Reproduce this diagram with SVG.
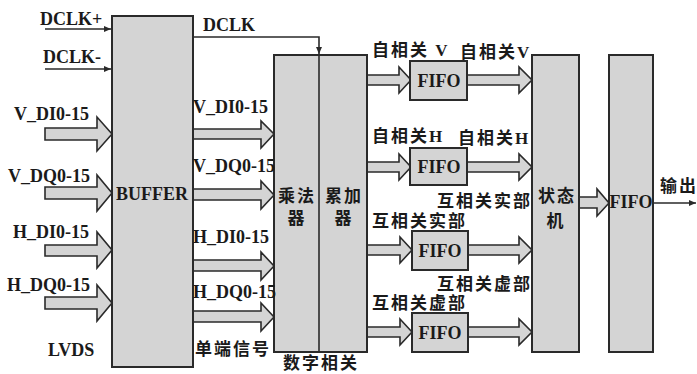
<svg xmlns="http://www.w3.org/2000/svg" width="697" height="374" viewBox="0 0 697 374">
<defs>
<style>
.box{fill:#d4d4d4;stroke:#2a2a2a;stroke-width:2}
.ba{fill:#d4d4d4;stroke:#2a2a2a;stroke-width:1.6;stroke-linejoin:miter}
.ln{fill:none;stroke:#2a2a2a;stroke-width:1.6}
text{font-family:"Liberation Serif","Noto Sans CJK SC",serif;font-weight:bold;font-size:18px;fill:#1a1a1a}
.cn{font-size:17px;letter-spacing:2px}
.mid{text-anchor:middle}
</style>
<marker id="ah" markerWidth="8" markerHeight="8" refX="7" refY="4" orient="auto" markerUnits="userSpaceOnUse">
<path d="M0,1 L7,4 L0,7 Z" fill="#2a2a2a"/>
</marker>
</defs>
<rect width="697" height="374" fill="#ffffff"/>

<g id="connectors">
<path class="ln" d="M45,29 H111" marker-end="url(#ah)"/>
<path class="ln" d="M45,69 H111" marker-end="url(#ah)"/>
<path class="ln" d="M193,37 H319 V54" marker-end="url(#ah)"/>
<path class="ln" d="M653,203 H696" marker-end="url(#ah)"/>
<!-- left inputs -->
<path class="ba" d="M45,128 H97 V117 L112,134 L97,151 V140 H45 Z"/>
<path class="ba" d="M45,187 H97 V175 L112,193 L97,211 V199 H45 Z"/>
<path class="ba" d="M45,245 H97 V232 L112,250 L97,268 V256 H45 Z"/>
<path class="ba" d="M45,297 H97 V285 L112,303 L97,321 V309 H45 Z"/>
<!-- buffer to correlator -->
<path class="ba" d="M193,129 H261 V121 L274,134 L261,148 V139 H193 Z"/>
<path class="ba" d="M193,189 H261 V181 L274,195 L261,209 V200 H193 Z"/>
<path class="ba" d="M193,260 H261 V252 L274,266 L261,280 V271 H193 Z"/>
<path class="ba" d="M193,311 H261 V303 L274,317 L261,331 V322 H193 Z"/>
<!-- correlator to FIFOs -->
<path class="ba" d="M367,75 H399 V67 L411,80 L399,93 V85 H367 Z"/>
<path class="ba" d="M367,162 H399 V154 L411,167 L399,180 V172 H367 Z"/>
<path class="ba" d="M367,245 H400 V237 L412,250 L400,263 V255 H367 Z"/>
<path class="ba" d="M367,327 H400 V319 L412,332 L400,345 V337 H367 Z"/>
<!-- FIFOs to state machine -->
<path class="ba" d="M467,75 H519 V67 L532,80 L519,93 V85 H467 Z"/>
<path class="ba" d="M467,162 H519 V154 L532,167 L519,180 V172 H467 Z"/>
<path class="ba" d="M468,245 H519 V237 L532,250 L519,263 V255 H468 Z"/>
<path class="ba" d="M468,327 H519 V319 L532,332 L519,345 V337 H468 Z"/>
<!-- state machine to output FIFO -->
<path class="ba" d="M579,197 H597 V189 L609,203 L597,216 V208 H579 Z"/>
</g>

<g id="buffer">
<rect class="box" x="112" y="16" width="81" height="351"/>
<text class="mid" x="152" y="200">BUFFER</text>
</g>

<g id="correlator">
<rect class="box" x="274" y="55" width="93" height="297"/>
<line class="ln" x1="319" y1="55" x2="319" y2="352" stroke-width="2"/>
<text class="cn mid" x="297" y="202">乘法</text>
<text class="cn mid" x="297" y="224">器</text>
<text class="cn mid" x="344" y="202">累加</text>
<text class="cn mid" x="344" y="224">器</text>
</g>

<g id="fifo1">
<rect class="box" x="410" y="61" width="57" height="39"/>
<text class="mid" x="439" y="87">FIFO</text>
</g>
<g id="fifo2">
<rect class="box" x="410" y="148" width="57" height="37"/>
<text class="mid" x="439" y="173">FIFO</text>
</g>
<g id="fifo3">
<rect class="box" x="412" y="231" width="56" height="39"/>
<text class="mid" x="440" y="257">FIFO</text>
</g>
<g id="fifo4">
<rect class="box" x="412" y="313" width="56" height="39"/>
<text class="mid" x="440" y="339">FIFO</text>
</g>

<g id="state-machine">
<rect class="box" x="532" y="55" width="47" height="297"/>
<text class="cn mid" x="557" y="202">状态</text>
<text class="cn mid" x="556" y="227">机</text>
</g>

<g id="fifo-out">
<rect class="box" x="609" y="55" width="44" height="297"/>
<text class="mid" x="631" y="208">FIFO</text>
</g>

<g id="labels">
<text x="40" y="25">DCLK+</text>
<text x="43" y="63">DCLK-</text>
<text x="203" y="31">DCLK</text>
<text x="14" y="120">V_DI0-15</text>
<text x="8" y="182">V_DQ0-15</text>
<text x="13" y="238">H_DI0-15</text>
<text x="7" y="291">H_DQ0-15</text>
<text x="48" y="356">LVDS</text>
<text x="193" y="113">V_DI0-15</text>
<text x="193" y="172">V_DQ0-15</text>
<text x="193" y="243">H_DI0-15</text>
<text x="193" y="298">H_DQ0-15</text>
<text class="cn" x="195" y="355">单端信号</text>
<text class="cn" x="283" y="369">数字相关</text>
<text class="cn" x="372" y="56">自相关 V</text>
<text class="cn" x="460" y="58" letter-spacing="0">自相关V</text>
<text class="cn" x="372" y="142">自相关H</text>
<text class="cn" x="458" y="144" letter-spacing="0">自相关H</text>
<text class="cn" x="437" y="207">互相关实部</text>
<text class="cn" x="372" y="227">互相关实部</text>
<text class="cn" x="437" y="290">互相关虚部</text>
<text class="cn" x="372" y="309">互相关虚部</text>
<text class="cn" x="660" y="192">输出</text>
</g>
</svg>
